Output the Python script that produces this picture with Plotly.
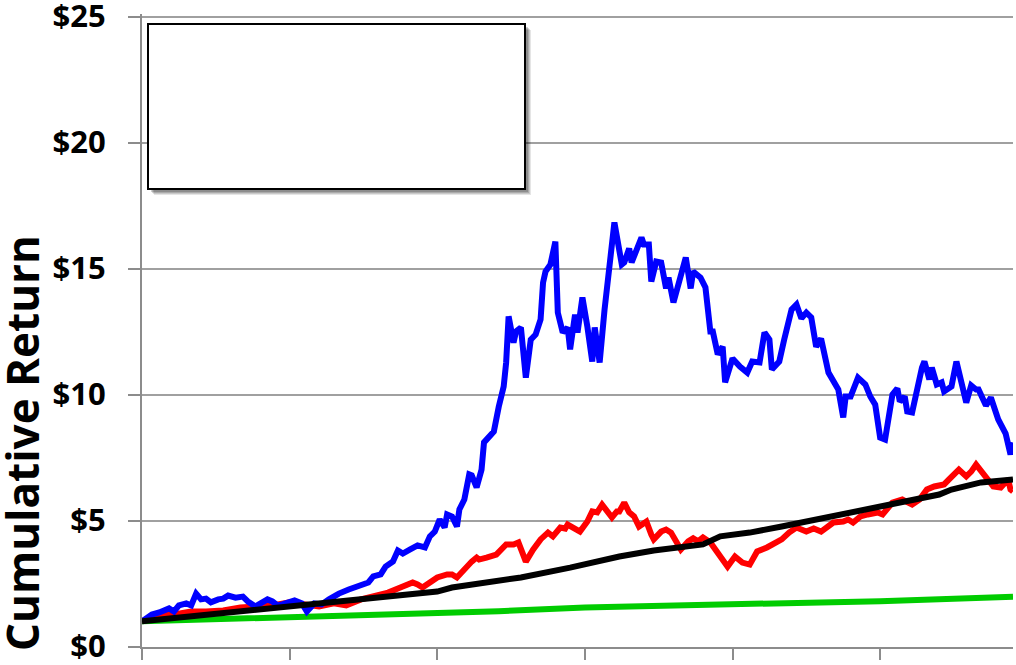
import plotly.graph_objects as go

# Months since start (monthly observations) and cumulative value of $1 invested
blue_month = [0, 4, 7, 11, 13, 15, 18, 20, 22, 24, 26, 28, 31, 33, 35, 38, 41, 43, 46, 49,
              51, 53, 55, 57, 62, 65, 67, 70, 73, 76, 80, 84, 89, 92, 94, 97, 99, 102, 104, 106,
              109, 112, 115, 117, 119, 121, 123, 124, 126, 128, 129, 131, 133, 134, 136, 138, 139, 141, 143, 145,
              147, 148, 149, 151, 152, 154, 156, 158, 160, 162, 163, 164, 166, 168, 169, 171, 173, 174, 176, 177,
              179, 181, 183, 184, 186, 188, 190, 191, 192, 195, 196, 198, 199, 203, 204, 206, 207, 209, 211, 213,
              214, 216, 221, 223, 224, 227, 229, 231, 232, 234, 236, 237, 240, 243, 246, 248, 251, 253, 255, 256,
              259, 261, 264, 266, 268, 270, 272, 274, 276, 279, 283, 285, 286, 288, 291, 294, 296, 298, 300, 302,
              305, 307, 308, 310, 311, 313, 315, 317, 318, 320, 321, 323, 325, 326, 329, 331, 335, 337, 339, 340,
              343, 345, 348, 351, 353, 354]
blue_value = [1.00, 1.27, 1.35, 1.51, 1.39, 1.63, 1.71, 1.63, 2.10, 1.87, 1.90, 1.75, 1.87, 1.90, 2.02, 1.94, 1.98, 1.79, 1.59, 1.75,
              1.87, 1.79, 1.63, 1.67, 1.83, 1.71, 1.39, 1.71, 1.67, 1.87, 2.10, 2.26, 2.42, 2.54, 2.78, 2.86, 3.17, 3.37, 3.81, 3.69,
              3.85, 4.01, 3.93, 4.37, 4.56, 5.04, 4.72, 5.24, 5.16, 4.76, 5.44, 5.83, 6.83, 6.79, 6.31, 7.02, 8.10, 8.33, 8.53, 9.52,
              10.32, 11.27, 13.10, 12.06, 12.50, 12.66, 10.67, 12.18, 12.38, 12.98, 14.44, 14.88, 15.16, 16.07, 13.25, 12.46, 12.66, 11.79, 13.17, 12.46,
              13.85, 12.70, 11.31, 12.66, 11.27, 13.37, 14.96, 16.03, 16.83, 15.16, 15.24, 15.79, 15.24, 16.23, 15.95, 15.95, 14.48, 15.28, 15.24, 14.21,
              14.64, 13.65, 15.44, 14.21, 14.88, 14.64, 14.25, 12.50, 12.50, 11.59, 11.90, 10.48, 11.43, 11.11, 10.87, 11.31, 11.27, 12.46, 12.18, 10.99,
              11.31, 12.18, 13.37, 13.57, 13.02, 13.25, 13.06, 11.90, 12.22, 10.87, 10.20, 9.09, 9.92, 9.92, 10.67, 10.40, 9.92, 9.60, 8.29, 8.21,
              10.00, 10.24, 9.72, 9.92, 9.33, 9.29, 10.32, 11.07, 11.31, 10.60, 11.07, 10.40, 10.48, 10.12, 10.32, 11.31, 9.68, 10.36, 10.20, 10.20,
              9.56, 9.88, 9.01, 8.45, 7.62, 8.10]

red_month = [0, 7, 13, 20, 26, 33, 40, 47, 53, 60, 67, 72, 78, 83, 89, 94, 100, 105, 110, 112,
             114, 117, 120, 124, 126, 128, 130, 134, 136, 137, 140, 144, 148, 151, 153, 156, 159, 162, 165, 167,
             170, 172, 173, 175, 178, 181, 183, 185, 187, 191, 193, 194, 196, 198, 200, 202, 204, 205, 207, 208,
             211, 213, 215, 217, 219, 222, 224, 226, 228, 231, 235, 238, 241, 244, 247, 250, 254, 258, 260, 263,
             266, 270, 273, 276, 278, 281, 285, 287, 289, 292, 295, 299, 301, 305, 309, 311, 313, 316, 319, 322,
             326, 328, 332, 335, 337, 339, 342, 343, 346, 349, 352, 353, 354]
red_value = [1.00, 1.27, 1.27, 1.39, 1.39, 1.43, 1.55, 1.59, 1.63, 1.75, 1.67, 1.59, 1.71, 1.63, 1.87, 1.98, 2.14, 2.34, 2.54, 2.46,
             2.34, 2.54, 2.74, 2.86, 2.86, 2.74, 2.98, 3.37, 3.53, 3.45, 3.53, 3.65, 4.05, 4.05, 4.13, 3.37, 3.85, 4.25, 4.52, 4.37,
             4.72, 4.68, 4.84, 4.72, 4.56, 4.96, 5.36, 5.32, 5.63, 5.12, 5.36, 5.36, 5.71, 5.32, 5.16, 4.76, 4.92, 4.96, 4.44, 4.25,
             4.56, 4.64, 4.52, 4.17, 3.85, 4.17, 4.29, 4.17, 4.33, 4.13, 3.53, 3.17, 3.57, 3.33, 3.25, 3.77, 3.93, 4.13, 4.25, 4.52,
             4.72, 4.56, 4.68, 4.56, 4.72, 4.92, 4.96, 5.04, 4.92, 5.16, 5.24, 5.32, 5.24, 5.71, 5.83, 5.71, 5.63, 5.83, 6.23, 6.35,
             6.43, 6.63, 7.02, 6.75, 6.94, 7.22, 6.83, 6.75, 6.35, 6.31, 6.63, 6.23, 6.15]

black_month = [0, 40, 67, 94, 120, 126, 154, 174, 194, 208, 221, 228, 235, 247, 260, 274, 287, 301, 315, 324,
               329, 341, 354]
black_value = [1.00, 1.39, 1.63, 1.94, 2.18, 2.34, 2.74, 3.13, 3.57, 3.81, 3.97, 4.05, 4.37, 4.52, 4.76, 5.04, 5.28, 5.56, 5.83, 6.03,
               6.23, 6.51, 6.63]

green_month = [0, 40, 113, 145, 180, 240, 260, 300, 354]
green_value = [1.00, 1.11, 1.27, 1.40, 1.55, 1.67, 1.67, 1.80, 1.97]

y_ticks = [0, 5, 10, 15, 20, 25]
y_tick_text = ["$0", "$5", "$10", "$15", "$20", "$25"]
x_ticks = [0, 60, 120, 180, 240, 300]

AXIS_GRAY = "#8c8c8c"
GRID_GRAY = "#a0a0a0"

# Plot-area geometry in pixels (used to place the legend frame and title)
PLOT_L, PLOT_T, PLOT_W, PLOT_H = 142, 14, 871, 633
Y_LO, Y_HI = -0.02, 25.1


def px_to_paper_x(px):
    return (px - PLOT_L) / PLOT_W


def px_to_paper_y(py):
    return (PLOT_T + PLOT_H - py) / PLOT_H


fig = go.Figure()
series = [
    (green_month, green_value, "#00cc00"),
    (red_month, red_value, "#ff0000"),
    (blue_month, blue_value, "#0000ff"),
    (black_month, black_value, "#000000"),
]
for xs, ys, color in series:
    fig.add_trace(go.Scatter(x=xs, y=ys, mode="lines",
                             line=dict(color=color, width=6),
                             showlegend=False, hoverinfo="skip"))

# Empty legend frame with a soft drop shadow
for off, op in [(6, 0.10), (5, 0.12), (4, 0.15), (3, 0.18)]:
    fig.add_shape(type="rect", xref="paper", yref="paper", layer="above",
                  x0=px_to_paper_x(148 + off), x1=px_to_paper_x(525 + off),
                  y0=px_to_paper_y(189 + off), y1=px_to_paper_y(24 + off),
                  fillcolor=f"rgba(0,0,0,{op})", line=dict(width=0))
fig.add_shape(type="rect", xref="paper", yref="paper", layer="above",
              x0=px_to_paper_x(148), x1=px_to_paper_x(525),
              y0=px_to_paper_y(189), y1=px_to_paper_y(24),
              fillcolor="white", line=dict(color="black", width=2))

fig.add_annotation(text="Cumulative Return", textangle=-90, showarrow=False,
                   xref="paper", yref="paper",
                   x=px_to_paper_x(22), y=px_to_paper_y(443),
                   xanchor="center", yanchor="middle",
                   font=dict(family="Open Sans", size=44, color="black", weight="bold"))

fig.update_layout(
    width=1016, height=665, autosize=False,
    margin=dict(l=PLOT_L, r=1016 - PLOT_L - PLOT_W, t=PLOT_T, b=665 - PLOT_T - PLOT_H, pad=0),
    paper_bgcolor="white", plot_bgcolor="white",
    xaxis=dict(range=[0, 354], tickvals=x_ticks, showticklabels=False, automargin=False,
               ticks="outside", ticklen=11, tickwidth=2, tickcolor=AXIS_GRAY,
               showgrid=False, zeroline=False,
               showline=True, linecolor=AXIS_GRAY, linewidth=2),
    yaxis=dict(range=[Y_LO, Y_HI], tickvals=y_ticks, ticktext=y_tick_text, automargin=False,
               ticks="outside", ticklen=12, tickwidth=2, tickcolor=AXIS_GRAY,
               ticklabelstandoff=16, ticklabeloverflow="allow",
               tickfont=dict(family="Open Sans", size=31, color="black", weight="bold"),
               showgrid=True, gridcolor=GRID_GRAY, gridwidth=2, zeroline=False,
               showline=True, linecolor=AXIS_GRAY, linewidth=2),
)

fig.write_html("out.html", config={"displayModeBar": False})
